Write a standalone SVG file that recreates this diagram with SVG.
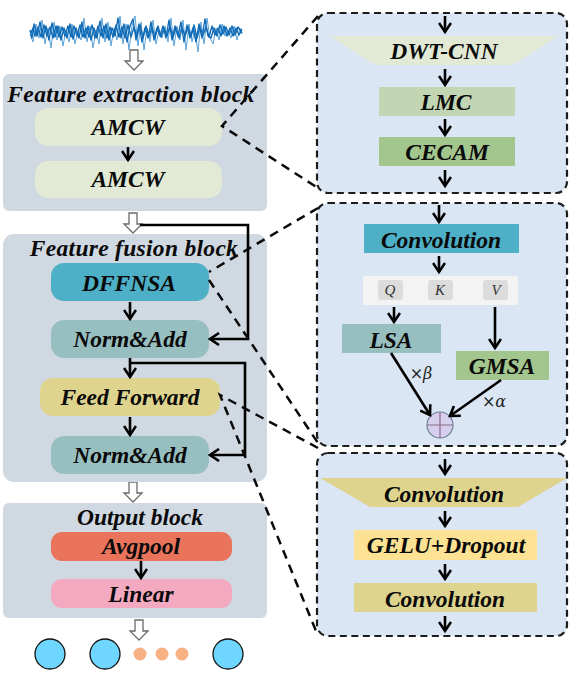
<svg xmlns="http://www.w3.org/2000/svg" width="575" height="676" viewBox="0 0 575 676">
<style>
.t{font-family:"Liberation Serif","Times New Roman",serif;font-weight:bold;font-style:italic;fill:#0a0a0a;text-anchor:middle;font-size:23.5px}
.q{font-family:"Liberation Serif",serif;font-style:italic;fill:#333;text-anchor:middle;font-size:15px}
.m{font-family:"DejaVu Serif","Liberation Serif",serif;font-style:italic;fill:#222;text-anchor:middle;font-size:16px}
.blk{fill:#d0d8e1}
.pan{fill:#dae6f4;stroke:#1c1c1c;stroke-width:2.2;stroke-dasharray:7 4.5}
.d{fill:none;stroke:#0a0a0a;stroke-width:2.5;stroke-dasharray:9 6.5}
.a{fill:none;stroke:#000;stroke-width:2.6}
.h{fill:#fff;stroke:#6a6a6a;stroke-width:1.3}
.big{fill:#6fd6ff;stroke:#111;stroke-width:1.3}
.dot{fill:#f8b184}
</style>
<defs>
<marker id="ah" markerUnits="userSpaceOnUse" markerWidth="16" markerHeight="14" refX="12" refY="7" orient="auto"><path d="M3 1 L12 7 L3 13" fill="none" stroke="#000" stroke-width="2.6"/></marker>
<path id="hollow" d="M-4 0H4V11H9L0 20L-9 11H-4Z"/>
</defs>
<g id="signal" fill="none" stroke-linejoin="round">
<polyline stroke="#5aa2d8" stroke-width="1" points="30,34 33,42 36,24 39,38 42,20 45,44 48,28 51,48 54,22 57,40 60,26 63,46 66,30 69,42 72,24 75,44 78,32 81,40 84,18 87,42 90,26 93,48 96,30 99,44 102,18 105,42 108,22 111,46 114,28 117,40 120,16 123,44 126,24 129,50 132,26 135,16 138,46 141,22 144,50 147,28 150,42 153,20 156,44 159,30 162,38 165,26 168,42 171,18 174,46 177,26 180,40 183,20 186,50 189,24 192,42 195,30 198,52 201,22 204,44 207,18 210,38 213,44 216,28 219,40 222,24 225,36 228,30 231,38 234,26 237,40 240,28 242,34"/>
<polyline stroke="#0f6bb6" stroke-width="1.4" points="30,30 32,38 34,24 37,36 40,22 43,38 46,26 49,40 52,23 55,37 58,26 61,40 64,28 67,38 70,24 73,39 76,28 79,38 82,22 85,38 88,26 91,40 94,28 97,38 100,21 103,38 106,24 109,40 112,28 115,36 118,18 121,38 124,24 127,42 130,26 133,19 136,40 139,24 142,42 145,28 148,38 151,22 154,40 157,28 160,36 163,26 166,38 169,20 172,40 175,26 178,36 181,22 184,42 187,25 190,38 193,28 196,42 199,24 202,38 205,19 208,36 211,38 214,28 217,36 220,25 223,34 226,27 229,35 232,26 235,35 238,27 242,33"/>
<polyline stroke="#0f6bb6" stroke-width="1.4" points="31,33 33,28 35,36 38,27 41,37 44,25 47,36 50,27 53,38 56,26 59,37 62,27 65,36 68,26 71,37 74,26 77,36 80,25 83,37 86,28 89,37 92,25 95,38 98,26 101,36 104,26 107,38 110,27 113,37 116,25 119,37 122,27 125,38 128,25 131,37 134,27 137,37 140,25 143,38 146,26 149,37 152,27 155,38 158,26 161,37 164,28 167,36 170,26 173,37 176,28 179,38 182,27 185,36 188,27 191,37 194,25 197,38 200,27 203,35 206,27 209,37 212,26 215,35 218,28 221,36 224,26 227,36 230,28 233,36 236,28 239,35 242,29"/>
</g>
<g id="connectors">
<g class="h">
<use href="#hollow" x="134" y="50"/>
<use href="#hollow" x="133" y="213"/>
<use href="#hollow" x="133" y="482"/>
<use href="#hollow" x="139" y="620"/>
</g>
</g>
<g id="feature-extraction-block"><rect class="blk" x="3" y="74" width="264" height="137" rx="6"/><text class="t" x="131" y="102" style="letter-spacing:.35px">Feature extraction block</text></g>
<g id="amcw-1"><rect x="35" y="108" width="187" height="38" rx="13" fill="#e2ead5"/><text class="t" x="128" y="135">AMCW</text></g>
<g id="amcw-2"><rect x="35" y="161" width="187" height="37" rx="13" fill="#e2ead5"/><text class="t" x="128" y="187">AMCW</text></g>
<g id="feature-fusion-block"><rect class="blk" x="3" y="234" width="264" height="248" rx="11"/><text class="t" x="134" y="256" style="letter-spacing:.3px">Feature fusion block</text></g>
<g id="dffnsa"><rect x="51" y="263" width="158" height="38" rx="13" fill="#4eb0c6"/><text class="t" x="129" y="291">DFFNSA</text></g>
<g id="norm-add-1"><rect x="51" y="320" width="158" height="38" rx="13" fill="#98bfc0"/><text class="t" x="130" y="347">Norm&amp;Add</text></g>
<g id="feed-forward"><rect x="40" y="378" width="180" height="38" rx="13" fill="#dfd48e"/><text class="t" x="130" y="405">Feed Forward</text></g>
<g id="norm-add-2"><rect x="51" y="436" width="158" height="38" rx="13" fill="#98bfc0"/><text class="t" x="130" y="463">Norm&amp;Add</text></g>
<g id="output-block"><rect class="blk" x="3" y="503" width="264" height="115" rx="6"/><text class="t" x="140" y="525">Output block</text></g>
<g id="avgpool"><rect x="51" y="532" width="181" height="29" rx="11" fill="#e9745b"/><text class="t" x="141" y="554">Avgpool</text></g>
<g id="linear"><rect x="51" y="579" width="181" height="29" rx="11" fill="#f3a9bf"/><text class="t" x="141" y="602">Linear</text></g>
<g id="outputs"><circle class="big" cx="50" cy="654" r="15"/><circle class="big" cx="105" cy="654" r="15"/><circle class="big" cx="228" cy="654" r="15"/><circle class="dot" cx="140" cy="654" r="6.5"/><circle class="dot" cx="162" cy="654" r="6.5"/><circle class="dot" cx="182" cy="654" r="6.5"/></g>

<g id="panel-amcw"><rect class="pan" x="317" y="13" width="250" height="180" rx="11"/></g>
<g id="dwt-cnn"><path d="M330 36H558L513 65H375Z" fill="#e2ead5"/><text class="t" x="444" y="59">DWT-CNN</text></g>
<g id="lmc"><rect x="379" y="87" width="136" height="29" fill="#c3d6b3"/><text class="t" x="446" y="110">LMC</text></g>
<g id="cecam"><rect x="379" y="137" width="136" height="29" fill="#a3c68f"/><text class="t" x="447" y="160">CECAM</text></g>

<g id="panel-dffnsa"><rect class="pan" x="317" y="203" width="250" height="243" rx="11"/></g>
<g id="convolution-a"><rect x="364" y="224" width="155" height="29" fill="#4eb0c6"/><text class="t" x="441" y="248">Convolution</text></g>
<g id="qkv"><rect x="363" y="276" width="155" height="29" fill="#f3f3f3"/>
<rect x="378" y="280" width="25" height="20" rx="3" fill="#dcdcdc"/><rect x="428" y="280" width="25" height="20" rx="3" fill="#dcdcdc"/><rect x="483" y="280" width="25" height="20" rx="3" fill="#dcdcdc"/>
<text class="q" x="390" y="295">Q</text><text class="q" x="440" y="295">K</text><text class="q" x="496" y="295">V</text></g>
<g id="lsa"><rect x="342" y="324" width="99" height="29" fill="#98bfc0"/><text class="t" x="391" y="348">LSA</text></g>
<g id="gmsa"><rect x="456" y="351" width="93" height="29" fill="#a3c68f"/><text class="t" x="502" y="374">GMSA</text></g>
<g id="sum"><circle cx="440" cy="425" r="13" fill="#d6d0ee" stroke="#6e7f9a" stroke-width="1.2"/><path d="M427 425H453M440 412V438" stroke="#8a6a80" stroke-width="1.2" fill="none"/></g>
<text class="m" x="421" y="379">×β</text>
<text class="m" x="494" y="407">×α</text>

<g id="panel-ff"><rect class="pan" x="317" y="453" width="250" height="183" rx="11"/></g>
<g id="convolution-b"><path d="M320 478H567L518 507H370Z" fill="#dfd48e"/><text class="t" x="444" y="502">Convolution</text></g>
<g id="gelu-dropout"><rect x="354" y="530" width="183" height="30" fill="#fde293"/><text class="t" x="446" y="553">GELU+Dropout</text></g>
<g id="convolution-c"><rect x="354" y="583" width="183" height="29" fill="#dfd48e"/><text class="t" x="445" y="607">Convolution</text></g>

<g id="links">
<g class="a">
<path marker-end="url(#ah)" d="M128 147V160"/>
<path marker-end="url(#ah)" d="M130 302V319"/>
<path marker-end="url(#ah)" d="M130 358V377"/>
<path marker-end="url(#ah)" d="M130 417V435"/>
<path marker-end="url(#ah)" d="M141 561V578"/>
<path marker-end="url(#ah)" d="M140 225H248V339H210"/>
<path marker-end="url(#ah)" d="M130 363H245V455H210"/>
<path marker-end="url(#ah)" d="M445 16V32"/>
<path marker-end="url(#ah)" d="M445 69V85"/>
<path marker-end="url(#ah)" d="M445 119V135"/>
<path marker-end="url(#ah)" d="M445 170V186"/>
<path marker-end="url(#ah)" d="M439 205V222"/>
<path marker-end="url(#ah)" d="M439 256V272"/>
<path marker-end="url(#ah)" d="M394 307V322"/>
<path marker-end="url(#ah)" d="M495 307V348"/>
<path marker-end="url(#ah)" d="M391 353L430 415"/>
<path marker-end="url(#ah)" d="M501 380L450 416"/>
<path marker-end="url(#ah)" d="M445 459V474"/>
<path marker-end="url(#ah)" d="M445 511V526"/>
<path marker-end="url(#ah)" d="M445 564V579"/>
<path marker-end="url(#ah)" d="M445 616V631"/>
</g>
<path class="d" d="M318 16L222 126L318 188"/>
<path class="d" d="M318 208L209 272"/>
<path class="d" d="M209 280L318 443"/>
<path class="d" d="M318 448L220 395L318 636"/>
</g>
</svg>
